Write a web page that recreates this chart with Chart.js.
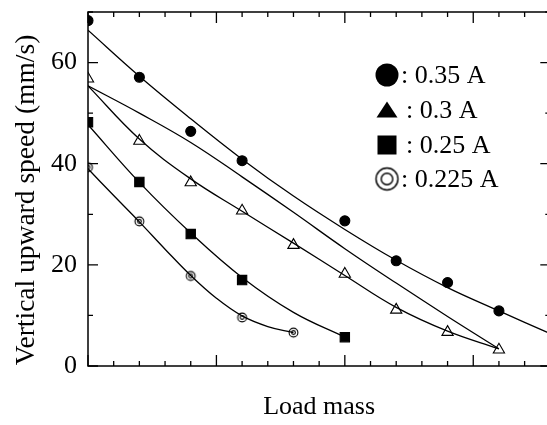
<!DOCTYPE html>
<html>
<head>
<meta charset="utf-8">
<title>Vertical upward speed vs load mass</title>
<script src="https://cdn.jsdelivr.net/npm/chart.js@4.4.1/dist/chart.umd.min.js"></script>
<style>
  html, body { margin: 0; padding: 0; background: #fff; overflow: hidden; }
  #wrap { position: relative; width: 558px; height: 425px; }
</style>
</head>
<body>
<div id="wrap"><canvas id="speedChart"></canvas></div>
<script>
// load mass is given in minor tick steps, the axis has no numbers
const yTicks = [0, 20, 40, 60];
const legendLabels = [': 0.35 A', ': 0.3 A', ': 0.25 A', ': 0.225 A'];

// measured points
const mass035 = [0, 2, 4, 6, 10, 12, 14, 16];
const speed035 = [68.3, 57.1, 46.4, 40.6, 28.7, 20.8, 16.5, 10.9];
const mass030 = [0, 2, 4, 6, 8, 10, 12, 14, 16];
const speed030 = [56.8, 44.5, 36.3, 30.7, 23.9, 18.2, 11.1, 6.7, 3.2];
const mass025 = [0, 2, 4, 6, 10];
const speed025 = [48.2, 36.4, 26.1, 17.0, 5.7];
const mass0225 = [0, 2, 4, 6, 8];
const speed0225 = [39.3, 28.6, 17.8, 9.6, 6.6];

// fitted curves
const fitMass035 = [0, 2, 4, 6, 8, 10, 12, 14, 16, 18];
const fitSpeed035 = [66.4, 57.3, 48.9, 40.9, 33.6, 27.0, 20.9, 15.5, 10.9, 6.4];
const fitMass030a = [0, 2, 4, 6, 8, 10, 12, 14, 16];
const fitSpeed030a = [55.4, 50.0, 44.2, 37.4, 30.4, 23.2, 16.4, 9.8, 3.4];
const fitMass030b = [0, 2, 4, 6, 8, 10, 12, 14, 16];
const fitSpeed030b = [55.4, 44.9, 37.0, 30.6, 24.3, 17.9, 11.6, 6.9, 3.4];
const fitMass025 = [0, 2, 4, 6, 8, 10];
const fitSpeed025 = [47.7, 36.3, 26.3, 17.5, 10.6, 5.7];
const fitMass0225 = [0, 1, 2, 3, 4, 5, 6, 7, 8];
const fitSpeed0225 = [39.0, 33.7, 28.5, 23.1, 17.9, 13.4, 9.9, 7.8, 6.6];

const FONT = '"Liberation Serif", "DejaVu Serif", serif';

function toXY(xs, ys) {
  return xs.map((x, i) => ({ x: x, y: ys[i] }));
}

// double circle marker
function ringMarker(r, inner, lw) {
  const c = document.createElement('canvas');
  const s = Math.ceil(2 * r + 2 * lw + 2);
  c.width = s; c.height = s;
  const g = c.getContext('2d');
  g.strokeStyle = '#000';
  g.fillStyle = '#fff';
  g.lineWidth = lw;
  g.beginPath(); g.arc(s / 2, s / 2, r, 0, Math.PI * 2); g.fill(); g.stroke();
  g.beginPath(); g.arc(s / 2, s / 2, inner, 0, Math.PI * 2); g.stroke();
  return c;
}
const ringSmall = ringMarker(4.4, 1.9, 1.1);
const ringBig = ringMarker(11, 5.8, 1.4);

function curve(xs, ys) {
  return {
    data: toXY(xs, ys),
    showLine: true,
    borderColor: '#000',
    borderWidth: 1.3,
    pointRadius: 0,
    tension: 0.4,
    fill: false
  };
}

function marks(xs, ys, style, r, fill) {
  return {
    data: toXY(xs, ys),
    showLine: false,
    pointStyle: style,
    pointRadius: r,
    pointBackgroundColor: fill,
    pointBorderColor: '#000',
    pointBorderWidth: 1.1
  };
}

const frameAndLegend = {
  id: 'frameAndLegend',
  afterDraw(chart) {
    const { ctx, chartArea: a, scales } = chart;
    const xs = scales.x, ys = scales.y;
    ctx.save();
    ctx.strokeStyle = '#000';
    ctx.lineWidth = 1.5;
    ctx.strokeRect(a.left, a.top, a.right - a.left, a.bottom - a.top);

    ctx.lineWidth = 1.3;
    ctx.beginPath();
    for (let v = 0; v <= 70; v += 10) {
      const py = ys.getPixelForValue(v);
      const len = v % 20 === 0 ? 10 : 5;
      ctx.moveTo(a.left, py); ctx.lineTo(a.left + len, py);
      ctx.moveTo(a.right, py); ctx.lineTo(a.right - len, py);
    }
    for (let m = 0; m <= 18; m++) {
      const px = xs.getPixelForValue(m);
      const len = m % 5 === 0 ? 11 : 5;
      ctx.moveTo(px, a.bottom); ctx.lineTo(px, a.bottom - len);
      ctx.moveTo(px, a.top); ctx.lineTo(px, a.top + len);
    }
    ctx.stroke();

    // y title
    ctx.fillStyle = '#000';
    ctx.font = '27.5px ' + FONT;
    ctx.textAlign = 'center';
    ctx.textBaseline = 'alphabetic';
    ctx.save();
    ctx.translate(34, 200);
    ctx.rotate(-Math.PI / 2);
    ctx.fillText('Vertical upward speed (mm/s)', 0, 0);
    ctx.restore();

    // legend
    const lx = 387, rows = [75, 110, 145, 179];
    ctx.font = '26px ' + FONT;
    ctx.textAlign = 'left';
    ctx.textBaseline = 'middle';
    ctx.beginPath(); ctx.arc(lx, rows[0], 11.5, 0, Math.PI * 2); ctx.fill();
    ctx.beginPath();
    ctx.moveTo(lx, rows[1] - 8.5); ctx.lineTo(lx + 10.5, rows[1] + 7.5); ctx.lineTo(lx - 10.5, rows[1] + 7.5);
    ctx.closePath(); ctx.fill();
    ctx.fillRect(lx - 9.5, rows[2] - 9.5, 19, 19);
    ctx.drawImage(ringBig, lx - ringBig.width / 2, rows[3] - ringBig.height / 2);
    const tx = [401, 406, 406, 401];
    legendLabels.forEach((t, i) => ctx.fillText(t, tx[i], rows[i] + 1));
    ctx.restore();
  }
};

new Chart(document.getElementById('speedChart'), {
  type: 'scatter',
  data: {
    datasets: [
      curve(fitMass035, fitSpeed035),
      curve(fitMass030a, fitSpeed030a),
      curve(fitMass030b, fitSpeed030b),
      curve(fitMass025, fitSpeed025),
      curve(fitMass0225, fitSpeed0225),
      marks(mass035, speed035, 'circle', 5, '#000'),
      marks(mass030, speed030, 'triangle', 6.5, '#fff'),
      marks(mass025, speed025, 'rect', 6.6, '#000'),
      marks(mass0225, speed0225, ringSmall, 5, '#fff')
    ]
  },
  options: {
    responsive: true,
    maintainAspectRatio: false,
    animation: false,
    layout: { padding: { top: 12, right: 2, left: 0, bottom: 0 } },
    plugins: { legend: { display: false }, tooltip: { enabled: false } },
    scales: {
      x: {
        type: 'linear',
        min: 0,
        max: 18,
        grid: { display: false, drawTicks: false },
        border: { display: false },
        ticks: { display: false },
        title: {
          display: true,
          text: 'Load mass',
          color: '#000',
          font: { family: FONT, size: 26 },
          padding: { top: 0, bottom: 2 }
        },
        afterFit(scale) { scale.height = 59; scale.paddingLeft = 0; scale.paddingRight = 0; }
      },
      y: {
        type: 'linear',
        min: 0,
        max: 70,
        grid: { display: false, drawTicks: false },
        border: { display: false },
        afterBuildTicks(scale) { scale.ticks = yTicks.map(v => ({ value: v })); },
        ticks: {
          color: '#000',
          padding: 11,
          font: { family: FONT, size: 26 }
        },
        afterFit(scale) { scale.width = 88; scale.paddingTop = 0; scale.paddingBottom = 0; }
      }
    }
  },
  plugins: [frameAndLegend]
});
</script>
</body>
</html>
